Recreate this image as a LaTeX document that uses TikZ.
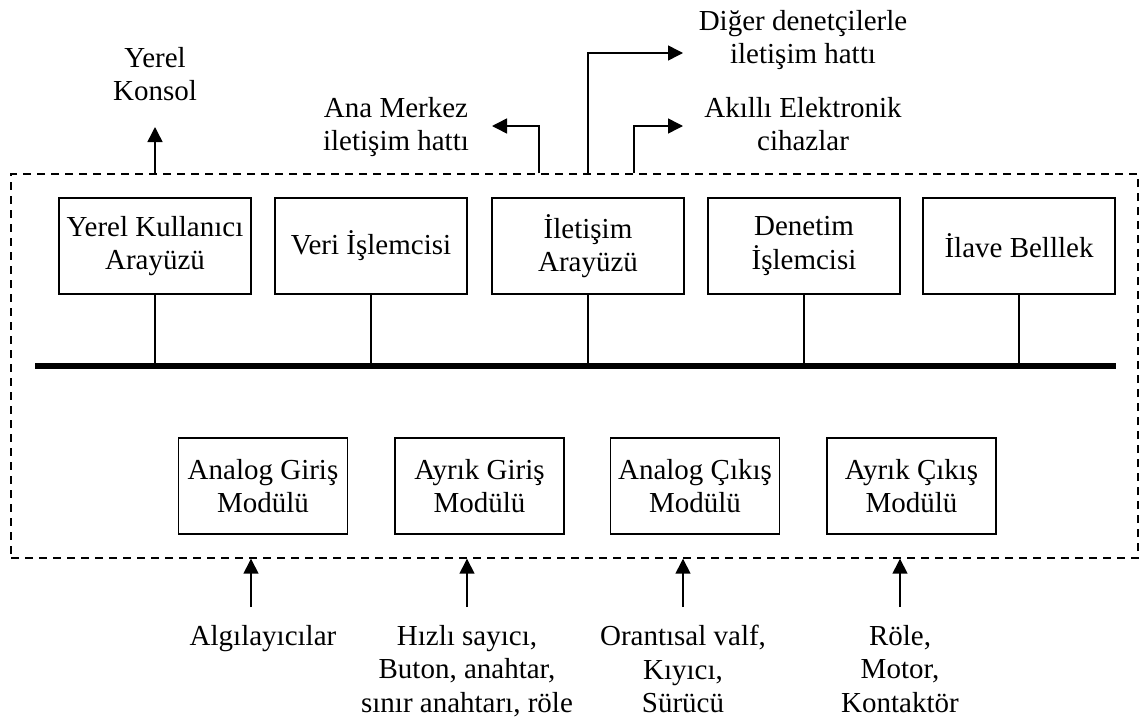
\documentclass[tikz,border=0pt]{standalone}
\usepackage{fontspec}
\setmainfont{Liberation Serif}
\usetikzlibrary{arrows.meta}

\tikzset{
  unitbox/.style={draw, line width=1.8pt, inner sep=0pt, align=center},
  topbox/.style={unitbox, minimum width=192pt, minimum height=96pt},
  iobox/.style={unitbox, minimum width=169pt, minimum height=96pt},
  lbl/.style={align=center, inner sep=0pt, anchor=north},
  wire/.style={line width=1.5pt},
  arr/.style={line width=1.5pt, -{Triangle[length=15pt,width=15pt]}},
  framebox/.style={draw, dashed, dash pattern=on 8pt off 6pt, line width=1.4pt,
    inner sep=0pt, minimum width=1127pt, minimum height=384pt},
  busbar/.style={fill=black, inner sep=0pt, minimum width=1081pt, minimum height=6pt}
}

\begin{document}
\begin{tikzpicture}[x=1pt, y=-1pt, font=\fontsize{29}{33.5}\selectfont]
\useasboundingbox (0,0) rectangle (1139,720);

% controller enclosure and internal bus
\node[framebox] (frame) at (574.5,366) {};
\node[busbar] (bus) at (575.5,366) {};

% processing units on the bus
\node[topbox] (ui)   at (155,246)  {Yerel Kullanıcı\\Arayüzü};
\node[topbox] (dp)   at (371,246)  {Veri İşlemcisi};
\node[topbox] (comm) at (588,246)  {İletişim\\Arayüzü};
\node[topbox] (ctrl) at (804,246)  {Denetim\\İşlemcisi};
\node[topbox] (mem)  at (1019,246) {İlave Belllek};

\foreach \u in {ui,dp,comm,ctrl,mem}
  \draw[wire] (\u.south) -- (\u.south |- bus.north);

% I/O modules
\node[iobox] (ai) at (263,486)   {Analog Giriş\\Modülü};
\node[iobox] (di) at (479.5,486) {Ayrık Giriş\\Modülü};
\node[iobox] (ao) at (695,486)   {Analog Çıkış\\Modülü};
\node[iobox] (do) at (911.5,486) {Ayrık Çıkış\\Modülü};

% outgoing links at the top
\node[lbl] (console) at (155,47) {Yerel\\Konsol};
\node[lbl] (host)    at (396,97) {Ana Merkez\\iletişim hattı};
\node[lbl] (peers)   at (803,10) {Diğer denetçilerle\\iletişim hattı};
\node[lbl] (ied)     at (803,97) {Akıllı Elektronik\\cihazlar};

\coordinate (consoleTip) at (155,127);
\coordinate (hostX)   at (539,0);
\coordinate (hostTip) at (492,126);
\coordinate (peersTip) at (683,53);
\coordinate (iedX)    at (634,0);
\coordinate (iedTip)  at (683,126);

\draw[arr] (ui.north |- frame.north) -- (consoleTip);
\draw[arr] (hostX |- frame.north) |- (hostTip);
\draw[arr] (comm.north |- frame.north) |- (peersTip);
\draw[arr] (iedX |- frame.north) |- (iedTip);

% field devices at the bottom
\node[lbl] (sens)  at (263,625) {Algılayıcılar};
\node[lbl] (sw)    at (467,625) {Hızlı sayıcı,\\Buton, anahtar,\\sınır anahtarı, röle};
\node[lbl] (valve) at (683,625) {Orantısal valf,\\Kıyıcı,\\Sürücü};
\node[lbl] (relay) at (900,625) {Röle,\\Motor,\\Kontaktör};

\coordinate (sensIn)  at (251,607);
\coordinate (swIn)    at (467,607);
\coordinate (valveIn) at (683,607);
\coordinate (relayIn) at (900,607);

\foreach \c in {sensIn,swIn,valveIn,relayIn}
  \draw[arr] (\c) -- (\c |- frame.south);
\end{tikzpicture}
\end{document}
